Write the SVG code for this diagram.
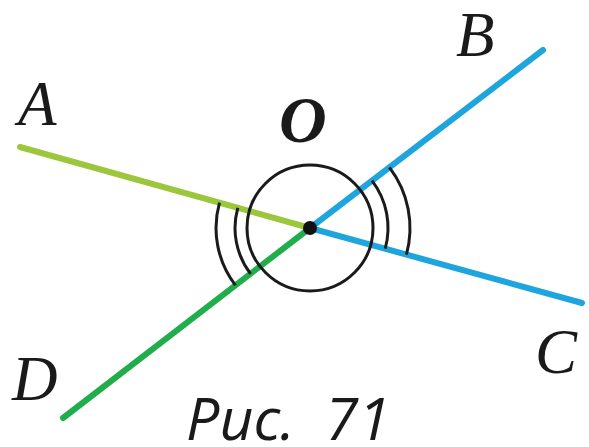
<svg xmlns="http://www.w3.org/2000/svg" width="589" height="447" viewBox="0 0 589 447">
<style>
.lbl{font-family:"Liberation Serif","DejaVu Serif",serif;font-style:italic;font-size:63px;fill:#1a1a1a}
.ray{stroke-width:6;stroke-linecap:round;fill:none}
.arc{stroke:#1a1a1a;stroke-width:3;fill:none}
</style>
<rect width="589" height="447" fill="#ffffff"/>
<g id="connectors">
<line class="ray" x1="20" y1="147" x2="310" y2="228" stroke="#9cc63c"/>
<line class="ray" x1="310" y1="228" x2="543" y2="50" stroke="#1ea5de"/>
<line class="ray" x1="310" y1="228" x2="582" y2="303" stroke="#1ea5de"/>
<line class="ray" x1="310" y1="228" x2="63" y2="418" stroke="#20ad4b"/>
</g>
<g id="angles">
<circle class="arc" cx="310" cy="228" r="63"/>
<path class="arc" d="M237.8 207.8 A75 75 0 0 0 250.6 273.8"/>
<path class="arc" d="M219.5 202.7 A94 94 0 0 0 235.5 285.3"/>
<path class="arc" d="M372 180.6 A78 78 0 0 1 385.2 248.7"/>
<path class="arc" d="M389.4 167.3 A100 100 0 0 1 406.4 254.6"/>
</g>
<g id="O">
<circle cx="310" cy="228" r="7" fill="#111"/>
<text class="lbl" x="279" y="142" font-weight="bold" style="font-size:66px">O</text>
</g>
<g id="A"><text class="lbl" x="18" y="125">A</text></g>
<g id="B"><text class="lbl" x="456" y="56">B</text></g>
<g id="C"><text class="lbl" x="535" y="373">C</text></g>
<g id="D"><text class="lbl" x="12" y="400">D</text></g>
<g id="caption"><text x="186" y="440" font-family="'Open Sans','Noto Sans',sans-serif" font-style="italic" font-size="59" fill="#1a1a1a" xml:space="preserve">Рис.  71</text></g>
</svg>
